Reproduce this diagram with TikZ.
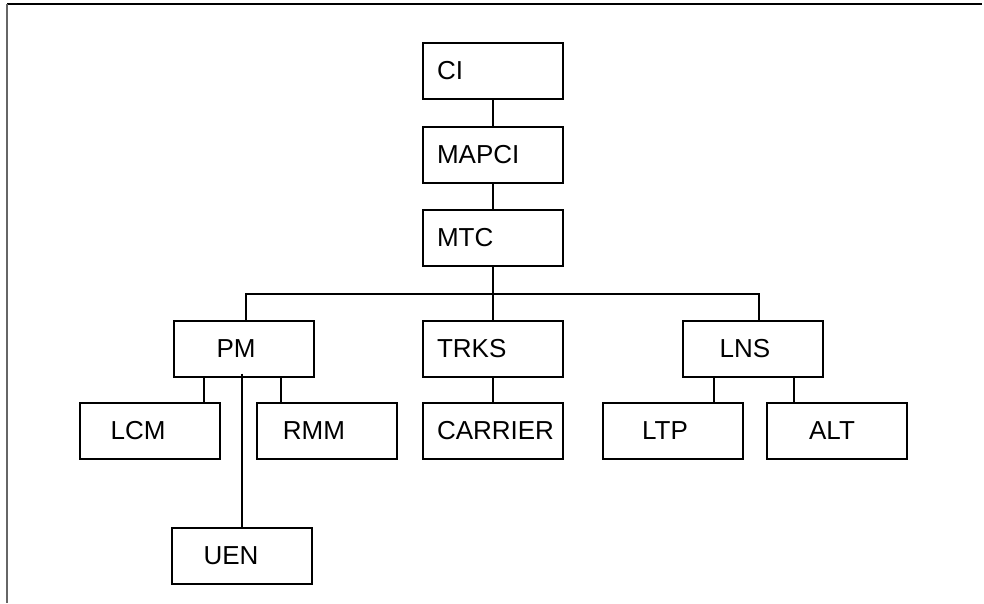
\documentclass[tikz,border=0pt]{standalone}
\usepackage{fontspec}
\setmainfont{Liberation Sans}
\usepackage{tikz}
\usetikzlibrary{positioning}

\begin{document}
\begin{tikzpicture}[x=1pt, y=-1pt, line width=1.3pt,
    box/.style={draw, minimum width=140pt, minimum height=56pt, inner sep=0pt,
        font=\fontsize{26}{30}\selectfont},
    lbox/.style={box, text width=112pt, align=left}]
            \useasboundingbox (0,0) rectangle (984,603);

            % Frame
            \draw[line width=2pt] (7,4) -- (982,4);
            \draw[black!60, line width=2pt] (7,4) -- (7,603);

            % Top chain
            \node[lbox] (ci) at (493,71) {CI};
            \node[lbox] (mapci) at (493,155) {MAPCI};
            \node[lbox] (mtc) at (493,238) {MTC};

            % Second level
            \node[box] (pm) at (244,349) {PM\kern16pt};
            \node[lbox] (trks) at (493,349) {TRKS};
            \node[box] (lns) at (753,349) {LNS\kern16pt};

            % Third level
            \node[box] (lcm) at (150,431) {LCM\kern24pt};
            \node[box] (rmm) at (327,431) {RMM\kern26pt};
            \node[lbox] (carrier) at (493,431) {CARRIER};
            \node[box] (ltp) at (673,431) {LTP\kern16pt};
            \node[box] (alt) at (837,431) {ALT\kern10pt};
            \node[box] (uen) at (242,556) {UEN\kern22pt};

            % Links
            \coordinate (bus) at (493,294);
            \draw (ci) -- (mapci);
            \draw (mapci) -- (mtc);
            \draw (mtc) -- (trks);
            \draw ([xshift=2pt]pm.north) |- (bus) -| ([xshift=6pt]lns.north);
            \draw (trks) -- (carrier);
            \draw ([xshift=-40pt]pm.south) -- ([xshift=-40pt]pm.south |- lcm.north);
            \draw ([xshift=37pt]pm.south) -- ([xshift=37pt]pm.south |- rmm.north);
            \draw ([yshift=4pt]pm.south -| uen.north) -- (uen.north);
            \draw ([xshift=-39pt]lns.south) -- ([xshift=-39pt]lns.south |- ltp.north);
            \draw ([xshift=41pt]lns.south) -- ([xshift=41pt]lns.south |- alt.north);
        \end{tikzpicture}
\end{document}
